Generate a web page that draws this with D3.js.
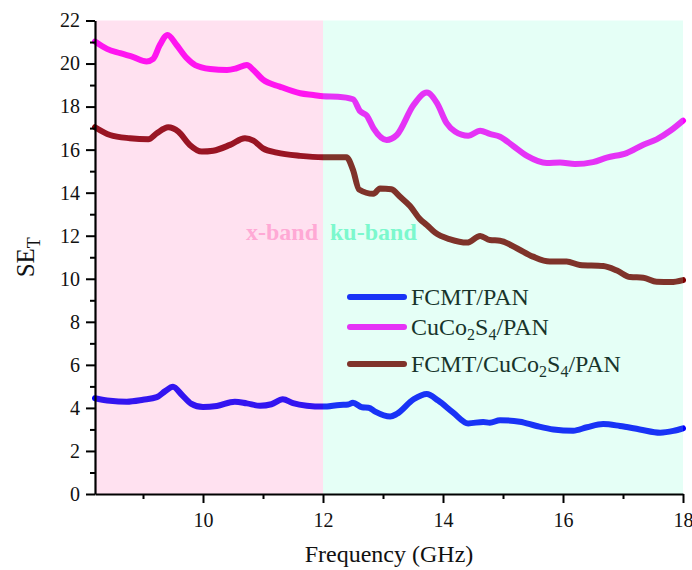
<!DOCTYPE html>
<html>
<head>
<meta charset="utf-8">
<script src="https://cdn.jsdelivr.net/npm/d3@7"></script>
<style>
  html, body { margin: 0; padding: 0; background: #fff; }
  svg { display: block; font-family: "Liberation Serif", "Times New Roman", serif; }
</style>
</head>
<body>
<svg id="chart" width="692" height="570"></svg>
<script>
// Shielding effectiveness (SE_T) versus frequency, three samples.
const seriesNames = ["FCMT/PAN", "CuCo2S4/PAN", "FCMT/CuCo2S4/PAN"];
const seriesColors = ["#0000ff", "#ff00ff", "#800000"];

// [frequency GHz, SE_T]
const fcmtPan = [
  [8.20,4.45],[8.45,4.33],[8.73,4.29],[9.00,4.38],[9.23,4.50],[9.37,4.78],[9.50,4.98],
  [9.65,4.60],[9.80,4.20],[10.00,4.04],[10.23,4.09],[10.53,4.29],[10.73,4.21],[10.95,4.10],
  [11.14,4.17],[11.33,4.40],[11.50,4.22],[11.73,4.10],[12.00,4.06],[12.28,4.14],[12.42,4.16],
  [12.50,4.24],[12.65,4.03],[12.76,4.01],[12.87,3.83],[13.12,3.60],[13.23,3.72],[13.51,4.40],
  [13.73,4.65],[13.92,4.34],[14.17,3.78],[14.42,3.28],[14.67,3.35],[14.78,3.31],[14.95,3.43],
  [15.28,3.36],[15.56,3.16],[15.84,3.00],[16.17,2.94],[16.40,3.10],[16.67,3.25],[16.95,3.16],
  [17.28,3.00],[17.62,2.85],[17.84,2.93],[18.00,3.05]
];
const cuco2s4Pan = [
  [8.20,21.02],[8.40,20.68],[8.62,20.48],[8.84,20.30],[9.06,20.10],[9.17,20.22],[9.28,20.86],
  [9.41,21.33],[9.56,20.86],[9.73,20.25],[9.87,19.93],[10.12,19.75],[10.40,19.70],[10.56,19.78],
  [10.73,19.93],[10.84,19.70],[11.00,19.25],[11.28,18.93],[11.62,18.62],[11.84,18.54],
  [12.00,18.48],[12.25,18.46],[12.50,18.34],[12.62,17.78],[12.73,17.58],[12.84,17.00],
  [13.06,16.45],[13.23,16.68],[13.51,18.08],[13.73,18.65],[13.90,18.16],[14.06,17.23],
  [14.20,16.84],[14.42,16.64],[14.62,16.88],[14.78,16.73],[14.95,16.60],[15.17,16.17],
  [15.40,15.71],[15.73,15.38],[15.95,15.40],[16.20,15.33],[16.50,15.42],[16.73,15.63],
  [17.06,15.84],[17.34,16.23],[17.56,16.48],[17.80,16.90],[18.00,17.35]
];
const fcmtCuco2s4Pan = [
  [8.20,17.04],[8.45,16.68],[8.78,16.53],[9.09,16.48],[9.23,16.76],[9.42,17.04],[9.59,16.84],
  [9.78,16.22],[9.98,15.91],[10.17,15.95],[10.45,16.22],[10.70,16.53],[10.84,16.42],
  [11.00,16.06],[11.23,15.86],[11.62,15.71],[12.00,15.65],[12.39,15.65],[12.50,15.06],
  [12.60,14.15],[12.84,13.95],[12.95,14.20],[13.14,14.16],[13.28,13.82],[13.45,13.38],
  [13.62,12.76],[13.73,12.50],[13.87,12.14],[14.12,11.83],[14.40,11.68],[14.62,11.99],
  [14.78,11.80],[14.95,11.77],[15.23,11.42],[15.50,11.03],[15.78,10.80],[16.06,10.80],
  [16.28,10.64],[16.67,10.59],[16.90,10.38],[17.12,10.08],[17.34,10.05],[17.56,9.86],
  [17.80,9.85],[18.00,9.94]
];

const xTicks = [10, 12, 14, 16, 18];
const xMinorTicks = [9, 11, 13, 15, 17];
const yTicks = [0, 2, 4, 6, 8, 10, 12, 14, 16, 18, 20, 22];
const yMinorTicks = [1, 3, 5, 7, 9, 11, 13, 15, 17, 19, 21];

const bandNames = ["x-band", "ku-band"];
const bandRanges = [[8.2, 12], [12, 18]];
const bandColors = ["#ff69b4", "#7fffd4"];
const bandLabelColors = ["#ffa9d5", "#7cf8cd"];

const svg = d3.select("#chart");
const margin = { left: 95, right: 9, top: 20.5, bottom: 76 };
const W = 692, H = 570;

const x = d3.scaleLinear().domain([8.2, 18]).range([margin.left, W - margin.right]);
const y = d3.scaleLinear().domain([0, 22]).range([H - margin.bottom, margin.top]);

const allSeries = [fcmtPan, cuco2s4Pan, fcmtCuco2s4Pan];

const line = d3.line().x(d => x(d[0])).y(d => y(d[1])).curve(d3.curveMonotoneX);

// curves
svg.append("g").selectAll("path").data(allSeries).join("path")
  .attr("d", line)
  .attr("fill", "none")
  .attr("stroke", (d, i) => seriesColors[i])
  .attr("stroke-width", 6)
  .attr("stroke-linejoin", "round")
  .attr("stroke-linecap", "round");

// legend
const legendRows = [297, 327, 364];
const legend = svg.append("g");
seriesNames.forEach((name, i) => {
  const ly = legendRows[i];
  legend.append("line")
    .attr("x1", 350).attr("x2", 404).attr("y1", ly).attr("y2", ly)
    .attr("stroke", seriesColors[i]).attr("stroke-width", 6).attr("stroke-linecap", "round");
  const t = legend.append("text").attr("x", 411).attr("y", ly + 8)
    .attr("font-size", 24).attr("fill", "#000");
  // digits in the formula are set as subscripts
  const parts = name.split(/(\d)/).filter(s => s.length);
  let lowered = false;
  parts.forEach(p => {
    const isDigit = /^\d$/.test(p);
    const ts = t.append("tspan").text(p);
    if (isDigit && !lowered) { ts.attr("dy", 5); lowered = true; }
    if (!isDigit && lowered) { ts.attr("dy", -5); lowered = false; }
    if (isDigit) ts.attr("font-size", 16);
  });
});

// translucent band shading laid over the curves
svg.append("g").selectAll("rect").data(bandRanges).join("rect")
  .attr("x", d => x(d[0]))
  .attr("width", d => x(d[1]) - x(d[0]))
  .attr("y", y(22))
  .attr("height", y(0) - y(22))
  .attr("fill", (d, i) => bandColors[i])
  .attr("fill-opacity", 0.2);

// band labels
svg.append("text").attr("x", x(12) - 5).attr("y", 240).attr("text-anchor", "end")
  .attr("font-size", 24).attr("font-weight", "bold").attr("fill", bandLabelColors[0])
  .text(bandNames[0]);
svg.append("text").attr("x", x(12) + 7).attr("y", 240).attr("text-anchor", "start")
  .attr("font-size", 24).attr("font-weight", "bold").attr("fill", bandLabelColors[1])
  .text(bandNames[1]);

// axes
svg.append("g").attr("transform", `translate(0,${y(0)})`)
  .call(d3.axisBottom(x).tickValues(xTicks).tickSize(9).tickSizeOuter(0).tickPadding(10)
    .tickFormat(d3.format("d")));
svg.append("g").attr("transform", `translate(0,${y(0)})`)
  .call(d3.axisBottom(x).tickValues(xMinorTicks).tickSize(5).tickSizeOuter(0).tickFormat(""))
  .call(g => g.select(".domain").remove());

svg.append("g").attr("transform", `translate(${x(8.2)},0)`)
  .call(d3.axisLeft(y).tickValues(yTicks).tickSize(9).tickSizeOuter(0).tickPadding(6)
    .tickFormat(d3.format("d")));
svg.append("g").attr("transform", `translate(${x(8.2)},0)`)
  .call(d3.axisLeft(y).tickValues(yMinorTicks).tickSize(5).tickSizeOuter(0).tickFormat(""))
  .call(g => g.select(".domain").remove());

svg.selectAll(".domain").attr("stroke", "#000").attr("stroke-width", 2.2);
svg.selectAll(".tick line").attr("stroke", "#000").attr("stroke-width", 2);
svg.selectAll(".tick text").attr("font-size", 20).attr("fill", "#111")
  .attr("font-family", "Liberation Serif, Times New Roman, serif");

// axis titles
svg.append("text").attr("x", (x(8.2) + x(18)) / 2).attr("y", 562)
  .attr("text-anchor", "middle").attr("font-size", 24).attr("fill", "#111")
  .text("Frequency (GHz)");

const yt = svg.append("text").attr("transform", `translate(34,${(y(0) + y(22)) / 2}) rotate(-90)`)
  .attr("text-anchor", "middle").attr("font-size", 25).attr("fill", "#111");
yt.append("tspan").text("SE");
yt.append("tspan").attr("dy", 6).attr("font-size", 18).text("T");
</script>
</body>
</html>
